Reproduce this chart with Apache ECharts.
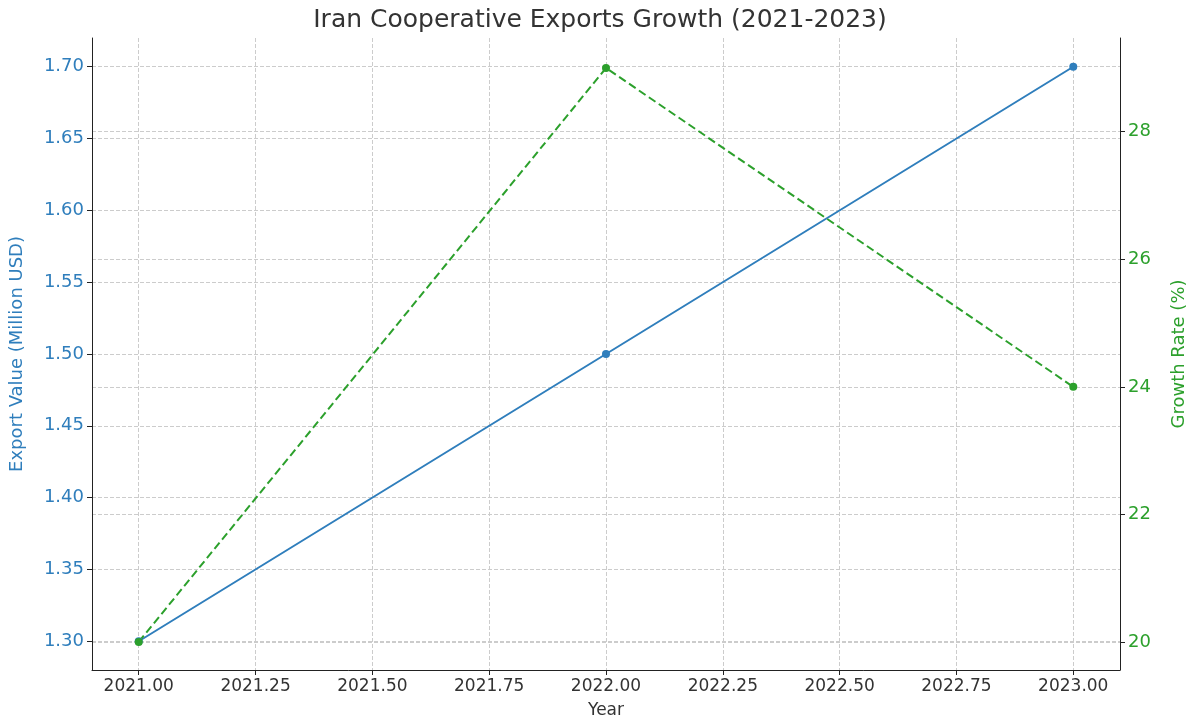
<!DOCTYPE html>
<html><head><meta charset="utf-8">
<script src="https://cdn.jsdelivr.net/npm/echarts@6/dist/echarts.min.js"></script>
<style>html,body{margin:0;padding:0;background:#fff}#c{width:1200px;height:728px}</style>
</head><body><div id="c"></div>
<script>
const years = [2021, 2022, 2023];
const exportValues = [1.30, 1.50, 1.70];
const growthRates = [20, 29, 24];
const xTicks = [2021, 2021.25, 2021.5, 2021.75, 2022, 2022.25, 2022.5, 2022.75, 2023];
const leftTicks = [1.30, 1.35, 1.40, 1.45, 1.50, 1.55, 1.60, 1.65, 1.70];
const rightTicks = [20, 22, 24, 26, 28];
const blue = '#2f7ebc', green = '#2ca02c';
const font = 'DejaVu Sans';
const grid = {type:'dashed', color:'#cccccc', width:1};
const chart = echarts.init(document.getElementById('c'));
chart.setOption({
  animation:false,
  title:{text:'Iran Cooperative Exports Growth (2021-2023)', left:'center', top:3,
    textStyle:{fontFamily:font, fontSize:25, fontWeight:'normal', color:'#333'}},
  grid:{left:90, right:80, top:38, bottom:58},
  xAxis:{type:'value', min:2020.9, max:2023.1, name:'Year', nameLocation:'middle', nameGap:32,
    nameTextStyle:{fontFamily:font, fontSize:17, color:'#333'},
    axisLine:{show:true, lineStyle:{color:'#222'}},
    axisTick:{show:true, customValues:xTicks, length:5, lineStyle:{color:'#222'}},
    axisLabel:{customValues:xTicks, formatter:v=>v.toFixed(2), fontFamily:font, fontSize:17, color:'#333', margin:8},
    splitLine:{show:true, lineStyle:grid}},
  yAxis:[
    {type:'value', min:1.28, max:1.72, position:'left', name:'Export Value (Million USD)', nameLocation:'middle', nameGap:66,
      nameTextStyle:{fontFamily:font, fontSize:18, color:blue},
      axisLine:{show:true, lineStyle:{color:'#222'}},
      axisTick:{show:true, customValues:leftTicks, length:5, lineStyle:{color:'#222'}},
      axisLabel:{customValues:leftTicks, formatter:v=>v.toFixed(2), fontFamily:font, fontSize:18, color:blue},
      splitLine:{show:true, lineStyle:grid}},
    {type:'value', min:19.56, max:29.47, position:'right', name:'Growth Rate (%)', nameLocation:'middle', nameGap:50,
      nameRotate:90,
      nameTextStyle:{fontFamily:font, fontSize:18, color:green},
      axisLine:{show:true, lineStyle:{color:'#222'}},
      axisTick:{show:true, customValues:rightTicks, length:5, lineStyle:{color:'#222'}},
      axisLabel:{customValues:rightTicks, fontFamily:font, fontSize:18, color:green},
      splitLine:{show:true, lineStyle:grid}}
  ],
  series:[
    {type:'line', yAxisIndex:0, data:years.map((y,i)=>[y,exportValues[i]]), symbol:'circle', symbolSize:8,
      itemStyle:{color:blue}, lineStyle:{color:blue, width:2}},
    {type:'line', yAxisIndex:1, data:years.map((y,i)=>[y,growthRates[i]]), symbol:'circle', symbolSize:8,
      itemStyle:{color:green}, lineStyle:{color:green, width:2, type:'dashed'}}
  ]
});
</script></body></html>
